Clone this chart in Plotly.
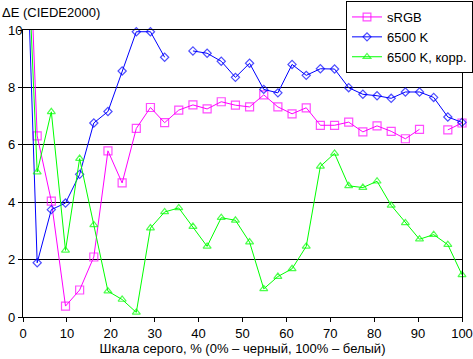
import plotly.graph_objects as go

# Grey level, % (0 ... 100 in 31 steps)
gray = [0, 3.23, 6.45, 9.68, 12.9, 16.13, 19.35, 22.58, 25.81, 29.03, 32.26,
        35.48, 38.71, 41.94, 45.16, 48.39, 51.61, 54.84, 58.06, 61.29, 64.52,
        67.74, 70.97, 74.19, 77.42, 80.65, 83.87, 87.1, 90.32, 93.55, 96.77, 100]

srgb = [18.9, 6.31, 4.04, 0.38, 0.94, 2.09, 5.79, 4.67, 6.57, 7.30, 6.77,
        7.21, 7.39, 7.25, 7.50, 7.38, 7.32, 7.74, 7.32, 7.08, 7.29,
        6.68, 6.68, 6.79, 6.45, 6.66, 6.47, 6.21, 6.54, None, 6.52, 6.76]

k6500 = [17.1, 1.89, 3.74, 3.97, 4.97, 6.76, 7.16, 8.57, 9.94, 9.94, 9.05,
         None, 9.27, 9.19, 8.91, 8.35, 8.84, 7.93, 7.81, 8.80, 8.42,
         8.65, 8.64, 7.99, 7.76, 7.71, 7.62, 7.84, 7.84, 7.65, 6.97, 6.78]

k6500_corr = [16.8, 5.05, 7.15, 2.32, 5.52, 3.21, 0.90, 0.61, 0.16, 3.10, 3.66,
              3.80, 3.15, 2.46, 3.46, 3.37, 2.61, 0.98, 1.41, 1.68, 2.46,
              5.25, 5.70, 4.57, 4.51, 4.73, 3.89, 3.28, 2.71, 2.87, 2.52, 1.47]

names = ["sRGB", "6500 K", "6500 K, корр."]
colors = ["#FF00FF", "#0000FF", "#00FF00"]
symbols = ["square-open", "diamond-open", "triangle-up-open"]
base_sizes = [8, 6.3, 7]

x_ticks = list(range(0, 101, 10))
y_ticks = list(range(0, 11, 2))
y_ticktext = [str(v) if v >= 10 else str(v) + "\u2007" for v in y_ticks]

FONT = "Liberation Sans, Arial, sans-serif"

fig = go.Figure()
for i, (name, vals) in enumerate(zip(names, [srgb, k6500, k6500_corr])):
    sizes = [0 if (v is not None and v > 10) else base_sizes[i] for v in vals]
    fig.add_trace(go.Scatter(
        x=gray, y=vals, name=name, mode="lines+markers",
        line=dict(color=colors[i], width=1),
        marker=dict(symbol=symbols[i], size=sizes, color=colors[i],
                    line=dict(width=1.2, color=colors[i])),
        connectgaps=False, cliponaxis=False, legendgroup=name,
    ))

fig.update_layout(
    width=473, height=359,
    margin=dict(l=23, r=11, t=30, b=42, pad=0, autoexpand=False),
    paper_bgcolor="white", plot_bgcolor="white",
    font=dict(family=FONT, size=13, color="black"),
    showlegend=True,
    legend=dict(
        xref="container", yref="container",
        x=346 / 473, y=1 - 1 / 359, xanchor="left", yanchor="top",
        bgcolor="white", bordercolor="black", borderwidth=1,
        font=dict(family=FONT, size=13, color="black"),
        tracegroupgap=0, itemwidth=30,
    ),
    xaxis=dict(
        range=[0, 100], tickvals=x_ticks, ticks="outside", ticklen=4,
        tickcolor="black", showline=True, linecolor="black", linewidth=1,
        mirror=True, showgrid=False, zeroline=False, automargin=False,
        tickfont=dict(family=FONT, size=13),
        title=dict(text="Шкала серого, % (0% – черный, 100% – белый)",
                   font=dict(family=FONT, size=13), standoff=4),
    ),
    yaxis=dict(
        range=[0, 10], tickvals=y_ticks, ticktext=y_ticktext, ticks="outside",
        ticklen=4, tickcolor="black", showline=True, linecolor="black",
        linewidth=1, mirror=True, showgrid=True, gridcolor="black",
        gridwidth=1, zeroline=False, automargin=False,
        tickfont=dict(family=FONT, size=13),
        ticklabelstandoff=-7,
    ),
    annotations=[dict(
        text="ΔE (CIEDE2000)", xref="paper", yref="paper",
        x=-23 / 439, y=(317 - 12) / 287, xanchor="left", yanchor="middle",
        showarrow=False, font=dict(family=FONT, size=13, color="black"),
    )],
)

fig.write_html(
    "out.html",
    config={"displayModeBar": False},
    post_script="document.body.style.margin='0';document.body.style.overflow='hidden';",
)
